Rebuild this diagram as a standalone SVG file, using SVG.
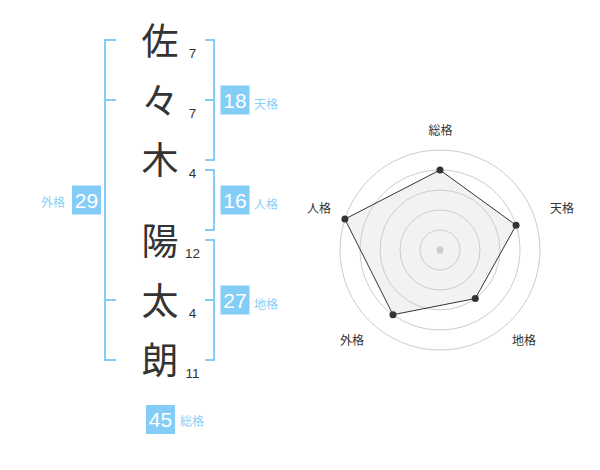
<svg xmlns="http://www.w3.org/2000/svg" width="600" height="470" viewBox="0 0 600 470">
<style>
text{font-family:"Liberation Sans","Noto Sans CJK JP",sans-serif}
.k{font-size:37px;fill:#333;text-anchor:middle}
.n{font-size:13.5px;fill:#333;text-anchor:middle}
.bx{fill:#84cdf7}
.bn{font-size:21px;fill:#fff;text-anchor:middle}
.bl{font-size:12px;fill:#8ad0f7}
.br{fill:none;stroke:#84cdf7;stroke-width:2}
.ring{fill:none;stroke:#ccc;stroke-width:1}
.rl{font-size:12px;fill:#333;text-anchor:middle}
</style>
<rect width="600" height="470" fill="#fff"/>
<g id="chars">
<text class="k" x="160" y="54.5">佐</text>
<text class="k" x="160" y="114.5">々</text>
<text class="k" x="160" y="173.5">木</text>
<text class="k" x="160" y="254.5">陽</text>
<text class="k" x="160" y="314.5">太</text>
<text class="k" x="160" y="373.5">朗</text>
<text class="n" x="192.5" y="57.5">7</text>
<text class="n" x="192.5" y="118">7</text>
<text class="n" x="192.5" y="178">4</text>
<text class="n" x="192.5" y="257.5">12</text>
<text class="n" x="192.5" y="318">4</text>
<text class="n" x="192.5" y="377.5">11</text>
</g>
<g id="connectors">
<path class="br" d="M116,40H105V360H116M105,100H116M105,300H116"/>
<path class="br" d="M205,40H214V160H205M205,100H214"/>
<path class="br" d="M205,170H214V230H205"/>
<path class="br" d="M205,240H214V360H205M205,300H214"/>
</g>
<g id="tenkaku">
<rect class="bx" x="220.5" y="85.5" width="29" height="29"/>
<text class="bn" x="235" y="107.5">18</text>
<text class="bl" x="254" y="109">天格</text>
</g>
<g id="jinkaku">
<rect class="bx" x="220.5" y="185.5" width="29" height="29"/>
<text class="bn" x="235" y="207.5">16</text>
<text class="bl" x="254" y="209">人格</text>
</g>
<g id="chikaku">
<rect class="bx" x="220.5" y="285.5" width="29" height="29"/>
<text class="bn" x="235" y="307.5">27</text>
<text class="bl" x="254" y="309">地格</text>
</g>
<g id="gaikaku">
<rect class="bx" x="72" y="185.5" width="29" height="29"/>
<text class="bn" x="86.5" y="207.5">29</text>
<text class="bl" x="41" y="207">外格</text>
</g>
<g id="soukaku">
<rect class="bx" x="146" y="405" width="29" height="29"/>
<text class="bn" x="160.5" y="427">45</text>
<text class="bl" x="180" y="426">総格</text>
</g>
<g id="radar">
<polygon points="440,170 516.08,225.28 475.27,298.54 392.98,314.72 344.89,219.1" fill="#f2f2f2"/>
<circle class="ring" cx="440" cy="250" r="20"/>
<circle class="ring" cx="440" cy="250" r="40"/>
<circle class="ring" cx="440" cy="250" r="60"/>
<circle class="ring" cx="440" cy="250" r="80"/>
<circle class="ring" cx="440" cy="250" r="100"/>
<polygon points="440,170 516.08,225.28 475.27,298.54 392.98,314.72 344.89,219.1" fill="none" stroke="#333" stroke-width="1"/>
<circle cx="440" cy="250" r="3.5" fill="#ccc"/>
<g fill="#333">
<circle cx="440" cy="170" r="3.5"/>
<circle cx="516.08" cy="225.28" r="3.5"/>
<circle cx="475.27" cy="298.54" r="3.5"/>
<circle cx="392.98" cy="314.72" r="3.5"/>
<circle cx="344.89" cy="219.1" r="3.5"/>
</g>
<text class="rl" x="440.5" y="135">総格</text>
<text class="rl" x="562" y="213">天格</text>
<text class="rl" x="524" y="345">地格</text>
<text class="rl" x="352" y="345">外格</text>
<text class="rl" x="319" y="213">人格</text>
</g>
</svg>
